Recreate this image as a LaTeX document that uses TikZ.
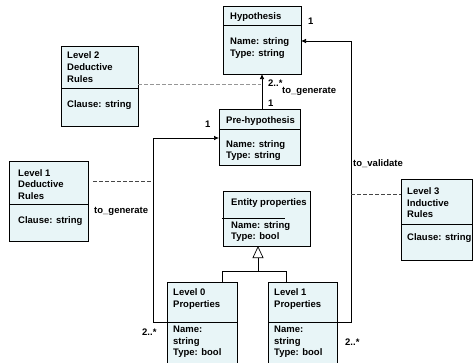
\documentclass[tikz,border=0pt]{standalone}
\usepackage{fontspec}
\setmainfont{Liberation Sans}
\usetikzlibrary{arrows.meta}
\definecolor{boxfill}{RGB}{232,245,247}
\definecolor{depdark}{RGB}{70,70,70}
\definecolor{deplight}{RGB}{150,150,150}
\tikzset{
  cls/.style={draw, fill=boxfill, line width=0.7pt, inner sep=0pt, outer sep=0pt, anchor=north west},
  txt/.style={inner sep=0pt, anchor=base west, align=left, font=\bfseries\fontsize{9.5}{12}\selectfont},
  assoc/.style={-{Latex[length=5pt,width=4.5pt]}, line width=0.7pt},
  deplite/.style={dash pattern=on 4pt off 2pt, deplight, line width=0.7pt},
  depdk/.style={dash pattern=on 4pt off 2pt, depdark, line width=0.6pt},
  gen/.style={line width=0.7pt},
  sep/.style={line width=0.7pt}
}
\begin{document}
\begin{tikzpicture}[x=1pt,y=-1pt]
\useasboundingbox (0,0) rectangle (473,362);
\clip (0,0) rectangle (473,362);
\fill[white] (0,0) rectangle (473,362);

% Hypothesis
\node[cls, minimum width=78pt, minimum height=68pt] (hyp) at (223,6) {};
\draw[sep] (223,25) -- (301,25);
\node[txt] (hypT) at (230,19.5) {Hypothesis};
\node[txt] (hypA1) at (230,44.5) {Name: string};
\node[txt] (hypA2) at (230,56.5) {Type: string};

% Level 2 Deductive Rules
\node[cls, minimum width=77pt, minimum height=80pt] (ltwo) at (61,46) {};
\draw[sep] (61,88) -- (138,88);
\node[txt] (ltwoT1) at (67,58.5) {Level 2};
\node[txt] (ltwoT2) at (67,70.5) {Deductive};
\node[txt] (ltwoT3) at (67,82.5) {Rules};
\node[txt] (ltwoA) at (67,107) {Clause: string};

% Pre-hypothesis
\node[cls, minimum width=81pt, minimum height=56pt] (pre) at (219,109) {};
\draw[sep] (219,129) -- (300,129);
\node[txt] (preT) at (226,123.5) {Pre-hypothesis};
\node[txt] (preA1) at (226,147) {Name: string};
\node[txt] (preA2) at (226,158.5) {Type: string};

% Level 1 Deductive Rules
\node[cls, minimum width=79pt, minimum height=80pt] (lone) at (9,161) {};
\draw[sep] (9,204) -- (88,204);
\node[txt] (loneT1) at (18,176) {Level 1};
\node[txt] (loneT2) at (18,187.5) {Deductive};
\node[txt] (loneT3) at (18,199) {Rules};
\node[txt] (loneA) at (18,223) {Clause: string};

% Entity properties
\node[cls, minimum width=87pt, minimum height=55pt] (ent) at (223,191) {};
\draw[sep] (222,218) -- (285,218);
\node[txt] (entT) at (231,205) {Entity properties};
\node[txt] (entA1) at (231,228.5) {Name: string};
\node[txt] (entA2) at (231,239.5) {Type: bool};

% Level 3 Inductive Rules
\node[cls, minimum width=71pt, minimum height=81pt] (lthree) at (401,179) {};
\draw[sep] (401,224) -- (472,224);
\node[txt] (lthreeT1) at (407,194) {Level 3};
\node[txt] (lthreeT2) at (407,206) {Inductive};
\node[txt] (lthreeT3) at (407,217.5) {Rules};
\node[txt] (lthreeA) at (407,240) {Clause: string};

% Level 0 Properties
\node[cls, minimum width=70pt, minimum height=92pt] (pzero) at (167,282) {};
\draw[sep] (167,322) -- (237,322);
\node[txt] (pzeroT1) at (173,295.5) {Level 0};
\node[txt] (pzeroT2) at (173,307.5) {Properties};
\node[txt] (pzeroA1) at (173,332) {Name:};
\node[txt] (pzeroA2) at (173,344) {string};
\node[txt] (pzeroA3) at (173,355.5) {Type: bool};

% Level 1 Properties
\node[cls, minimum width=69pt, minimum height=92pt] (pone) at (268,282) {};
\draw[sep] (268,322) -- (337,322);
\node[txt] (poneT1) at (274,295.5) {Level 1};
\node[txt] (poneT2) at (274,307.5) {Properties};
\node[txt] (poneA1) at (274,332) {Name:};
\node[txt] (poneA2) at (274,344) {string};
\node[txt] (poneA3) at (274,355.5) {Type: bool};

% Pre-hypothesis -> Hypothesis
\draw[assoc] (hyp.south |- pre.north) -- (hyp.south);
\coordinate (gtwo) at (261,84);
\draw[deplite] (ltwo.east |- gtwo) -- (gtwo);
\node[txt] (m1) at (268,86) {2..*};
\node[txt] (m2) at (282,93.5) {to\_generate};
\node[txt] (m3) at (268,106) {1};

% Level 0 -> Pre-hypothesis
\coordinate (lb) at (153,322);
\coordinate (lt) at (153,138);
\draw[assoc] (pzero.west |- lb) -- (lb) -- (lt) -- (pre.west |- lt);
\coordinate (gone) at (153,181);
\draw[depdk] ([xshift=5pt]lone.east |- gone) -- (gone);
\node[txt] (m4) at (205,127) {1};
\node[txt] (m5) at (94,213) {to\_generate};
\node[txt] (m6) at (142,335) {2..*};

% Level 1 Properties -> Hypothesis
\coordinate (rb) at (351,322);
\coordinate (rt) at (351,41);
\draw[assoc] (pone.east |- rb) -- (rb) -- (rt) -- (hyp.east |- rt);
\coordinate (gthree) at (351,194);
\draw[depdk] (gthree) -- (lthree.west |- gthree);
\node[txt] (m7) at (308,24) {1};
\node[txt] (m8) at (353,166) {to\_validate};
\node[txt] (m9) at (345,345) {2..*};

% Generalization
\coordinate (inh) at (258,271);
\draw[gen] (pzero.north -| 222,0) -- (222,271) -- (286,271) -- (pone.north -| 286,0);
\draw[gen, -{Triangle[open, length=12pt, width=11pt]}] (inh) -- (inh |- ent.south);
\end{tikzpicture}
\end{document}
